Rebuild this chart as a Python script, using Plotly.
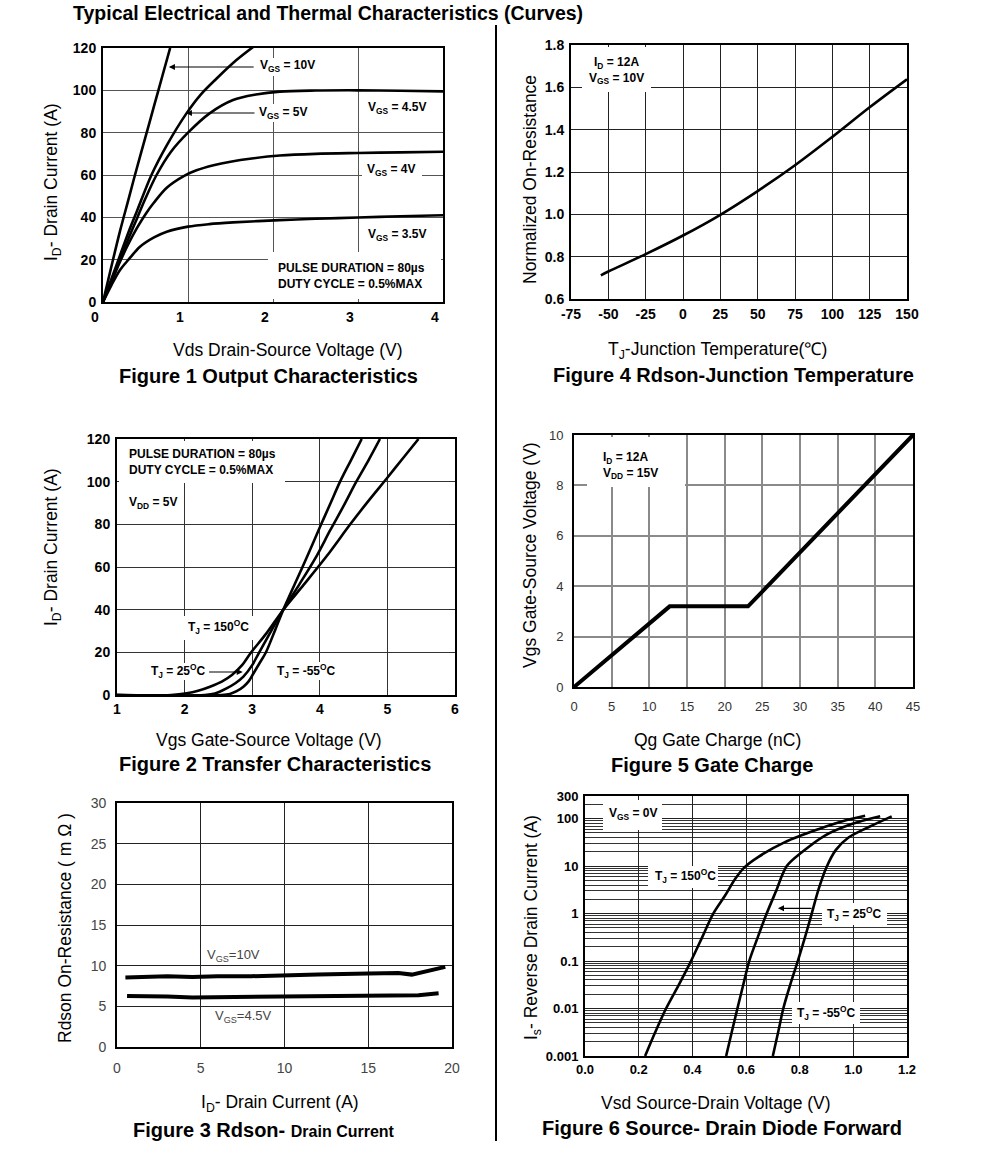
import math
import plotly.graph_objects as go

W, H = 991, 1154          # target picture size
FONT = "Liberation Sans, Arial, Helvetica, sans-serif"

# ---------------- data ----------------
# Figure 1 Output Characteristics (Vds [V], Id [A])
f1_v_10 = [0, 0.1, 0.2, 0.3, 0.376, 0.5, 0.6, 0.7, 0.79]
f1_i_10 = [0, 17, 33.5, 48.5, 60, 78, 92.5, 107, 120]
f1_v_5 = [0, 0.1, 0.2, 0.3, 0.4, 0.57, 0.75, 0.98, 1.15, 1.34, 1.57, 1.77]
f1_i_5 = [0, 11, 22, 33, 43, 60, 74, 89, 98, 105.7, 114.3, 120.6]
f1_v_45 = [0, 0.1, 0.2, 0.3, 0.4, 0.5, 0.63, 0.8, 1.0, 1.25, 1.53, 1.8, 2.08, 2.5, 3, 3.5, 4]
f1_i_45 = [0, 10, 20, 30, 39.5, 49, 60, 71, 80, 89, 95.4, 98, 99.4, 99.9, 100, 99.8, 99.5]
f1_v_4 = [0, 0.1, 0.2, 0.3, 0.4, 0.5, 0.6, 0.75, 0.95, 1.1, 1.3, 1.5, 1.75, 2.08, 2.5, 3, 3.5, 4]
f1_i_4 = [0, 9.5, 19, 27.5, 35, 41.5, 47, 54, 59.5, 62.2, 64.6, 66.3, 67.8, 69.2, 70, 70.4, 70.7, 71]
f1_v_35 = [0, 0.1, 0.2, 0.3, 0.435, 0.6, 0.75, 1.0, 1.25, 1.53, 2.08, 2.5, 3, 3.5, 4]
f1_i_35 = [0, 8, 15.1, 20, 26.1, 30.5, 33.2, 35.6, 36.8, 37.6, 38.7, 39.3, 39.9, 40.5, 41]

# Figure 4 Rdson vs junction temperature
f4_t = [-55, -50, -25, 0, 25, 50, 75, 100, 125, 150]
f4_r = [0.712, 0.73, 0.812, 0.9, 0.998, 1.11, 1.232, 1.366, 1.506, 1.638]
f4_xticks = [-75, -50, -25, 0, 25, 50, 75, 100, 125, 150]
f4_xtext = ["-75", "-50", "-25", "0", "25", "50", "75", "100", "125", "150"]

# Figure 2 Transfer characteristics (Vgs [V], Id [A])
f2_v_150 = [1, 1.8, 2.03, 2.2, 2.376, 2.55, 2.70, 2.85, 2.98, 3.21, 3.46, 3.76, 4.1, 4.45, 4.72, 4.99, 5.23, 5.46]
f2_i_150 = [0, 0, 0.8, 2.0, 3.9, 6.3, 9.4, 14, 19.8, 28.9, 40, 51.6, 65, 80, 91, 101.5, 111, 120]
f2_v_25 = [1, 2.3, 2.45, 2.62, 2.75, 2.87, 3.0, 3.10, 3.29, 3.46, 3.70, 3.95, 4.15, 4.35, 4.54, 4.72, 4.89]
f2_i_25 = [0, 0, 0.7, 3.1, 5.5, 8.6, 14, 19.8, 30.5, 40, 52, 65, 77, 88.5, 100, 110, 120]
f2_v_m55 = [1, 2.55, 2.67, 2.77, 2.87, 2.95, 3.02, 3.11, 3.20, 3.34, 3.46, 3.63, 3.80, 4.02, 4.16, 4.30, 4.46, 4.62]
f2_i_m55 = [0, 0, 0.5, 1.8, 3.9, 6.5, 10.2, 15, 19.8, 30.5, 40, 52, 64, 80, 90, 100, 110, 120]

# Figure 5 Gate charge (Qg [nC], Vgs [V])
f5_q = [0, 12.7, 23.1, 45]
f5_v = [0, 3.2, 3.2, 10]

# Figure 3 Rdson vs drain current (Id [A], Rdson [mOhm])
f3_i_10 = [0.5, 2, 3, 4.5, 6, 8, 10, 12, 15, 16.8, 17.6, 18.5, 19.6]
f3_r_10 = [8.55, 8.6, 8.7, 8.6, 8.7, 8.7, 8.85, 8.9, 9.05, 9.1, 8.9, 9.3, 9.85]
f3_i_45 = [0.6, 2, 3, 4.5, 6, 8, 10, 12, 15, 17, 18, 19.2]
f3_r_45 = [6.27, 6.27, 6.2, 6.1, 6.12, 6.22, 6.27, 6.27, 6.27, 6.25, 6.35, 6.6]

# Figure 6 Source-drain diode forward (Vsd [V], Is [A])
f6_v_150 = [0.224, 0.262, 0.302, 0.35, 0.395, 0.437, 0.478, 0.522, 0.56, 0.595, 0.645, 0.745, 0.87, 0.969, 1.044]
f6_i_150 = [0.001, 0.0032, 0.01, 0.032, 0.1, 0.32, 1, 2.4, 5.4, 9.5, 15.5, 32, 60, 91, 115]
f6_v_25 = [0.526, 0.547, 0.568, 0.59, 0.612, 0.644, 0.677, 0.71, 0.752, 0.808, 0.894, 0.994, 1.10]
f6_i_25 = [0.001, 0.0032, 0.01, 0.032, 0.1, 0.32, 1, 2.8, 10, 19.5, 44, 77, 112]
f6_v_m55 = [0.70, 0.72, 0.739, 0.765, 0.793, 0.82, 0.845, 0.87, 0.90, 0.935, 0.982, 1.056, 1.143]
f6_i_m55 = [0.001, 0.0032, 0.01, 0.032, 0.1, 0.32, 1, 3.2, 9.5, 22, 40, 66, 112]
f6_yticks = [0.001, 0.01, 0.1, 1, 10, 100, 300]
f6_ytext = ["0.001", "0.01", "0.1", "1", "10", "100", "300"]

# ---------------- layout helpers ----------------
# plot areas in pixels: (left, right, top, bottom)
AREAS = {
    "1": (103, 443, 48, 302),
    "2": (571, 907, 45, 299),
    "3": (117, 455, 439, 695),
    "4": (574, 913, 435, 687),
    "5": (117, 452, 803, 1047),
    "6": (585, 907, 796, 1056),
}


def px(x):
    return x / W


def py(y):
    return 1 - y / H


fig = go.Figure()


def add_curve(ax, xs, ys, width=2.6, spline=True, smoothing=0.9):
    xa = "x" if ax == "1" else "x" + ax
    ya = "y" if ax == "1" else "y" + ax
    line = dict(color="black", width=width, shape="spline" if spline else "linear")
    if spline:
        line["smoothing"] = smoothing
    fig.add_trace(go.Scatter(x=xs, y=ys, mode="lines", xaxis=xa, yaxis=ya, line=line,
                             showlegend=False, hoverinfo="skip"))


add_curve("1", f1_v_10, f1_i_10)
add_curve("1", f1_v_5, f1_i_5)
add_curve("1", f1_v_45, f1_i_45)
add_curve("1", f1_v_4, f1_i_4)
add_curve("1", f1_v_35, f1_i_35)
add_curve("2", f4_t, f4_r, smoothing=1.0)
add_curve("3", f2_v_150, f2_i_150)
add_curve("3", f2_v_25, f2_i_25)
add_curve("3", f2_v_m55, f2_i_m55)
add_curve("4", f5_q, f5_v, width=4, spline=False)
add_curve("5", f3_i_10, f3_r_10, width=4, spline=False)
add_curve("5", f3_i_45, f3_r_45, width=4, spline=False)
add_curve("6", f6_v_150, f6_i_150)
add_curve("6", f6_v_25, f6_i_25)
add_curve("6", f6_v_m55, f6_i_m55)


def axis_pair(ax, xrange, yrange, xdtick, ydtick, tickfont, gridcolor, gridwidth,
              linewidth=2, xfmt=None, yfmt=None, ylog=False, yvals=None, ytext=None,
              xvals=None, xtext=None, xshift=0, xstand=0, ystand=0):
    L, R, T, B = AREAS[ax]
    xa = dict(domain=[px(L), px(R)], range=xrange, automargin=False,
              showline=True, mirror=True, linecolor="black", linewidth=linewidth,
              showgrid=True, gridcolor=gridcolor, gridwidth=gridwidth,
              zeroline=False, ticks="", tickfont=tickfont, fixedrange=True,
              anchor="y" if ax == "1" else "y" + ax,
              ticklabelshift=xshift, ticklabelstandoff=xstand)
    if xvals:
        xa.update(tickmode="array", tickvals=xvals, ticktext=xtext)
    else:
        xa.update(dtick=xdtick, tick0=xrange[0])
    if xfmt:
        xa["tickformat"] = xfmt
    ya = dict(domain=[py(B), py(T)], automargin=False, showline=True, mirror=True,
              linecolor="black", linewidth=linewidth, showgrid=True, gridcolor=gridcolor,
              gridwidth=gridwidth, zeroline=False, ticks="", tickfont=tickfont,
              fixedrange=True, anchor="x" if ax == "1" else "x" + ax,
              ticklabelstandoff=ystand)
    if ylog:
        ya.update(type="log", range=yrange, tickmode="array", tickvals=yvals, ticktext=ytext,
                  minor=dict(showgrid=True, gridcolor="#333", gridwidth=0.8, dtick="D1"))
    else:
        ya.update(range=yrange, dtick=ydtick, tick0=yrange[0])
    if yfmt:
        ya["tickformat"] = yfmt
    key = "" if ax == "1" else ax
    fig.update_layout(**{"xaxis" + key: xa, "yaxis" + key: ya})


BOLD14 = dict(family=FONT, size=14, color="black", weight="bold")
BOLD13 = dict(family=FONT, size=13, color="black", weight="bold")
REG5 = dict(family=FONT, size=13, color="#333")
REG3 = dict(family=FONT, size=14, color="#444")

axis_pair("1", [0, 4], [0, 120], 1, 20, BOLD14, "#555", 1.4, xshift=-8, xstand=1, ystand=2)
axis_pair("2", [-75, 150], [0.6, 1.8], 25, 0.2, BOLD14, "#222", 1.3, yfmt=".1f",
          xvals=f4_xticks, xtext=f4_xtext, xstand=1, ystand=2)
axis_pair("3", [1, 6], [0, 120], 1, 20, BOLD14, "#333", 1.3, xstand=0, ystand=2)
axis_pair("4", [0, 45], [0, 10], 5, 2, REG5, "#8a8a8a", 1.6, xstand=6, ystand=6)
axis_pair("5", [0, 20], [0, 30], 5, 5, REG3, "#222", 1, linewidth=1.6, xstand=7, ystand=6)
axis_pair("6", [0, 1.2], [-3, math.log10(300)], 0.2, None, BOLD13, "#222", 1, xfmt=".1f",
          ylog=True, yvals=f6_yticks, ytext=f6_ytext, xstand=0, ystand=2)

# ---------------- white label boxes (hide grid lines behind labels) ----------------
shapes = []


def wbox(x0, x1, y0, y1):
    shapes.append(dict(type="rect", xref="paper", yref="paper", layer="above",
                       x0=px(x0), x1=px(x1), y0=py(y1), y1=py(y0),
                       fillcolor="white", line=dict(width=0)))


wbox(255, 321, 58, 76)
wbox(255, 312, 104, 122)
wbox(362, 422, 160, 182)
wbox(268, 441, 252, 299)
wbox(582, 651, 47, 92)
wbox(119, 285, 441, 483)
wbox(183, 253, 616, 640)
wbox(145, 210, 663, 680)
wbox(273, 340, 662, 680)
wbox(587, 685, 437, 487)
wbox(603, 662, 800, 830)
wbox(648, 718, 866, 888)
wbox(822, 887, 903, 925)
wbox(792, 860, 1002, 1024)

# divider line
shapes.append(dict(type="line", xref="paper", yref="paper", x0=px(496), x1=px(496),
                   y0=py(25), y1=py(1141), line=dict(color="black", width=2)))

# ---------------- texts ----------------
ann = []


def text(x, y, s, size=12, bold=True, color="black", angle=0, xanchor="center", align="center"):
    ann.append(dict(x=px(x), y=py(y), xref="paper", yref="paper", text=s, showarrow=False,
                    xanchor=xanchor, yanchor="middle", textangle=angle, align=align,
                    borderpad=0, font=dict(family=FONT, size=size, color=color,
                                           weight="bold" if bold else "normal")))


def arrow(ax, hx, hy, tx, ty):
    xr = "x" if ax == "1" else "x" + ax
    yr = "y" if ax == "1" else "y" + ax
    ann.append(dict(x=hx, y=hy, ax=tx, ay=ty, xref=xr, yref=yr, axref=xr, ayref=yr,
                    text="", showarrow=True, arrowhead=2, arrowsize=1.1, arrowwidth=1.1,
                    arrowcolor="black", standoff=0))


TS = 17.5   # axis title size
CS = 20     # caption size

text(72, 13, "Typical Electrical and Thermal Characteristics (Curves)", size=19.5, xanchor="left")

# Figure 1
text(287, 66, "V<sub>GS</sub> = 10V")
text(283, 113, "V<sub>GS</sub> = 5V")
text(397, 108, "V<sub>GS</sub> = 4.5V")
text(391, 170, "V<sub>GS</sub> = 4V")
text(397, 235, "V<sub>GS</sub> = 3.5V")
text(277, 276, "PULSE DURATION = 80µs<br>DUTY CYCLE = 0.5%MAX", xanchor="left", align="left")
arrow("1", 0.775, 111, 1.79, 111)
arrow("1", 0.975, 89.3, 1.80, 89.3)
text(52, 182, "I<sub>D</sub>- Drain Current (A)", size=TS, bold=False, angle=-90)
text(288, 350, "Vds Drain-Source Voltage (V)", size=TS, bold=False)
text(268, 376, "Figure 1 Output Characteristics", size=CS)

# Figure 4
text(616, 70, "I<sub>D</sub> = 12A<br>V<sub>GS</sub> = 10V")
text(530, 180, "Normalized On-Resistance", size=TS, bold=False, angle=-90)
text(717, 350, "T<sub>J</sub>-Junction Temperature(℃)", size=TS, bold=False)
text(733, 375, "Figure 4 Rdson-Junction Temperature", size=CS)

# Figure 2
text(128, 462, "PULSE DURATION = 80µs<br>DUTY CYCLE = 0.5%MAX", xanchor="left", align="left")
text(128, 503, "V<sub>DD</sub> = 5V", xanchor="left")
text(218, 627, "T<sub>J</sub> = 150<sup>O</sup>C")
text(178, 671, "T<sub>J</sub> = 25<sup>O</sup>C")
text(306, 671, "T<sub>J</sub> = -55<sup>O</sup>C")
arrow("3", 2.86, 10.8, 2.34, 10.8)
text(52, 547, "I<sub>D</sub>- Drain Current (A)", size=TS, bold=False, angle=-90)
text(269, 740, "Vgs Gate-Source Voltage (V)", size=TS, bold=False)
text(275, 764, "Figure 2 Transfer Characteristics", size=CS)

# Figure 5
text(602, 466, "I<sub>D</sub> = 12A<br>V<sub>DD</sub> = 15V", xanchor="left", align="left")
text(530, 555, "Vgs Gate-Source Voltage (V)", size=TS, bold=False, angle=-90)
text(717, 740, "Qg Gate Charge (nC)", size=TS, bold=False)
text(712, 765, "Figure 5 Gate Charge", size=CS)

# Figure 3
text(233, 955, "V<sub>GS</sub>=10V", size=13, bold=False, color="#444")
text(243, 1016, "V<sub>GS</sub>=4.5V", size=13, bold=False, color="#444")
text(65, 928, "Rdson On-Resistance ( m Ω )", size=TS, bold=False, angle=-90)
text(280, 1103, "I<sub>D</sub>- Drain Current (A)", size=TS, bold=False)
text(264, 1130, "Figure 3 Rdson- <span style='font-size:16px'>Drain Current</span>", size=CS)

# Figure 6
text(633, 814, "V<sub>GS</sub> = 0V")
text(685, 876, "T<sub>J</sub> = 150<sup>O</sup>C")
text(854, 914, "T<sub>J</sub> = 25<sup>O</sup>C")
text(826, 1013, "T<sub>J</sub> = -55<sup>O</sup>C")
arrow("6", 0.719, math.log10(1.29), 0.85, math.log10(1.29))
text(532, 928, "I<sub>s</sub>- Reverse Drain Current (A)", size=TS, bold=False, angle=-90)
text(716, 1103, "Vsd Source-Drain Voltage (V)", size=TS, bold=False)
text(722, 1128, "Figure 6 Source- Drain Diode Forward", size=CS)

fig.update_layout(width=W, height=H, margin=dict(l=0, r=0, t=0, b=0, pad=0, autoexpand=False),
                  paper_bgcolor="white", plot_bgcolor="white",
                  font=dict(family=FONT, color="black"),
                  shapes=shapes, annotations=ann, showlegend=False)

fig.write_html("out.html", config={"displayModeBar": False},
               post_script="document.body.style.margin='0px';document.body.style.overflow='hidden';")
